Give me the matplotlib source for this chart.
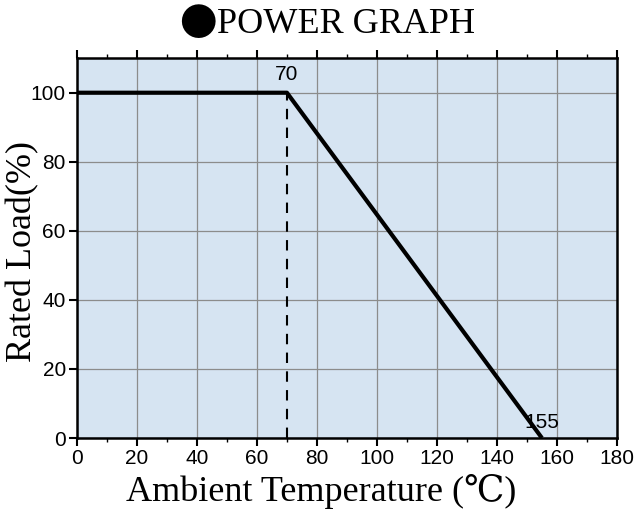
import matplotlib.pyplot as plt
from matplotlib.ticker import MultipleLocator

# derating curve
temp = [0, 70, 155]
load = [100, 100, 0]
knee_temp = 70
end_temp = 155
x_ticks = list(range(0, 181, 20))
y_ticks = list(range(0, 101, 20))

fig = plt.figure(figsize=(6.36, 5.15), dpi=100)
ax = fig.add_axes([0.121, 0.1495, 0.849, 0.7375])
ax.set_facecolor('#d6e4f2')

ax.plot(temp, load, color='black', lw=3, solid_capstyle='butt', zorder=3)
ax.plot([knee_temp, knee_temp], [0, 100], color='black', lw=1.5, ls=(0, (5, 4)), zorder=3)

ax.text(knee_temp, 102.5, str(knee_temp), ha='center', va='bottom',
        fontsize=15, family='Liberation Sans')
ax.text(end_temp, 4.5, str(end_temp), ha='center', va='center',
        fontsize=15, family='Liberation Sans', zorder=4)

ax.set_xlim(0, 180)
ax.set_ylim(0, 110)
ax.set_xticks(x_ticks)
ax.set_yticks(y_ticks)
ax.xaxis.set_minor_locator(MultipleLocator(10))
ax.grid(True, which='major', color='#8c8c8c', lw=0.9)
ax.set_axisbelow(True)

ax.tick_params(axis='both', which='major', direction='out', length=6, width=1.5,
               labelsize=15, top=True, labeltop=False, pad=2)
ax.tick_params(axis='x', which='minor', direction='out', length=3, width=1, top=True)
for lab in ax.get_xticklabels() + ax.get_yticklabels():
    lab.set_family('Liberation Sans')
for s in ax.spines.values():
    s.set_linewidth(1.8)

serif = ['Liberation Serif', 'DejaVu Serif', 'DejaVu Sans']
ax.set_xlabel('Ambient Temperature (℃)', fontsize=26, family=serif)
ax.xaxis.set_label_coords(0.452, -0.095)
ax.set_ylabel('Rated Load(%)', fontsize=26, family=serif)
ax.yaxis.set_label_coords(-0.07, 0.49)

fig.text(0.341, 0.953, '●', ha='right', va='center', fontsize=27,
         family=['Noto Sans CJK JP', 'DejaVu Sans'])
fig.text(0.341, 0.953, 'POWER GRAPH', ha='left', va='center', fontsize=26,
         family=serif)

fig.savefig('out.png', dpi=100)
